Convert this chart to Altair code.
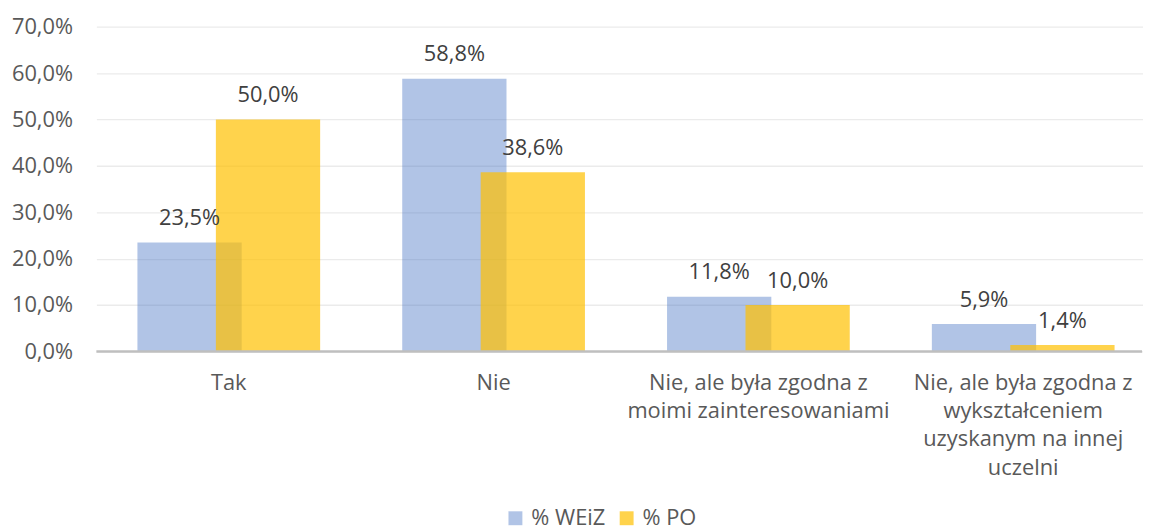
import altair as alt
import pandas as pd

categories = [
    "Tak",
    "Nie",
    "Nie, ale była zgodna z\nmoimi zainteresowaniami",
    "Nie, ale była zgodna z\nwykształceniem\nuzyskanym na innej\nuczelni",
]
series_names = ["% WEiZ", "% PO"]
weiz = [23.5, 58.8, 11.8, 5.9]
po = [50.0, 38.6, 10.0, 1.4]
y_ticks = [0, 10, 20, 30, 40, 50, 60, 70]

rows = []
for c, v in zip(categories, weiz):
    rows.append({"cat": c, "series": series_names[0], "value": v})
for c, v in zip(categories, po):
    rows.append({"cat": c, "series": series_names[1], "value": v})
df = pd.DataFrame(rows)

FONT = "Open Sans"
W, H = 1053, 327

xenc = alt.X(
    "cat:N",
    sort=categories,
    title=None,
    scale=alt.Scale(range=[0, 1066.7], paddingInner=0, paddingOuter=0),
    axis=alt.Axis(
        labelExpr="split(datum.label, '\\n')",
        labelAngle=0,
        domain=False,
        ticks=False,
        grid=False,
        labelPadding=21,
        labelFont=FONT,
        labelFontSize=22,
        labelColor="#595959",
        labelLineHeight=28.5,
        labelLimit=400,
    ),
)
yenc = alt.Y(
    "value:Q",
    title=None,
    scale=alt.Scale(domain=[0, 70], nice=False),
    axis=alt.Axis(
        values=y_ticks,
        labelExpr="replace(format(datum.value, '.1f'), '.', ',') + '%'",
        domain=False,
        ticks=False,
        labelPadding=24,
        labelFont=FONT,
        labelFontSize=22,
        labelColor="#595959",
        gridColor="#EBEBEB",
        gridWidth=1.3,
    ),
)
color = alt.Color(
    "series:N",
    scale=alt.Scale(domain=series_names, range=["#4472C4", "#FFC000"]),
    legend=alt.Legend(
        title=None,
        orient="none",
        direction="horizontal",
        legendX=411,
        legendY=484,
        symbolType="square",
        symbolSize=196,
        symbolStrokeWidth=0,
        labelFont=FONT,
        labelFontSize=22,
        labelColor="#595959",
        labelOffset=5,
        columnPadding=10,
    ),
)
opacity = alt.Opacity(
    "series:N",
    scale=alt.Scale(domain=series_names, range=[0.42, 0.7]),
    legend=None,
)

base = alt.Chart(df)
blue = base.transform_filter(alt.datum.series == series_names[0])
yellow = base.transform_filter(alt.datum.series == series_names[1])

blue_bar = blue.mark_bar(width=105, xOffset=-39.5).encode(x=xenc, y=yenc, color=color, opacity=opacity)
yellow_bar = yellow.mark_bar(width=105, xOffset=39.5).encode(x=xenc, y=yenc, color=color, opacity=opacity)

lbl = dict(font=FONT, fontSize=22, color="#404040", baseline="alphabetic", dy=-17.5)
label_expr = "replace(format(datum.value, '.1f'), '.', ',') + '%'"
blue_txt = blue.transform_calculate(lab=label_expr).mark_text(xOffset=-39.5, **lbl).encode(
    x=xenc, y=yenc, text=alt.Text("lab:N"),
)
yellow_txt = yellow.transform_calculate(lab=label_expr).mark_text(xOffset=39.5, **lbl).encode(
    x=xenc, y=yenc, text=alt.Text("lab:N"),
)

zero = alt.Chart(pd.DataFrame({"z": [0]})).mark_rule(color="#BFBFBF", strokeWidth=2.5).encode(
    y=alt.Y("z:Q", scale=alt.Scale(domain=[0, 70], nice=False))
)

chart = alt.layer(blue_bar, yellow_bar, zero, blue_txt, yellow_txt).properties(
    width=W,
    height=H,
    background="white",
    autosize=alt.AutoSizeParams(type="none"),
    padding={"left": 89, "top": 17, "right": 1, "bottom": 180},
).configure_view(stroke=None)

chart.save("out.html", embed_options={"renderer": "svg", "actions": False})
